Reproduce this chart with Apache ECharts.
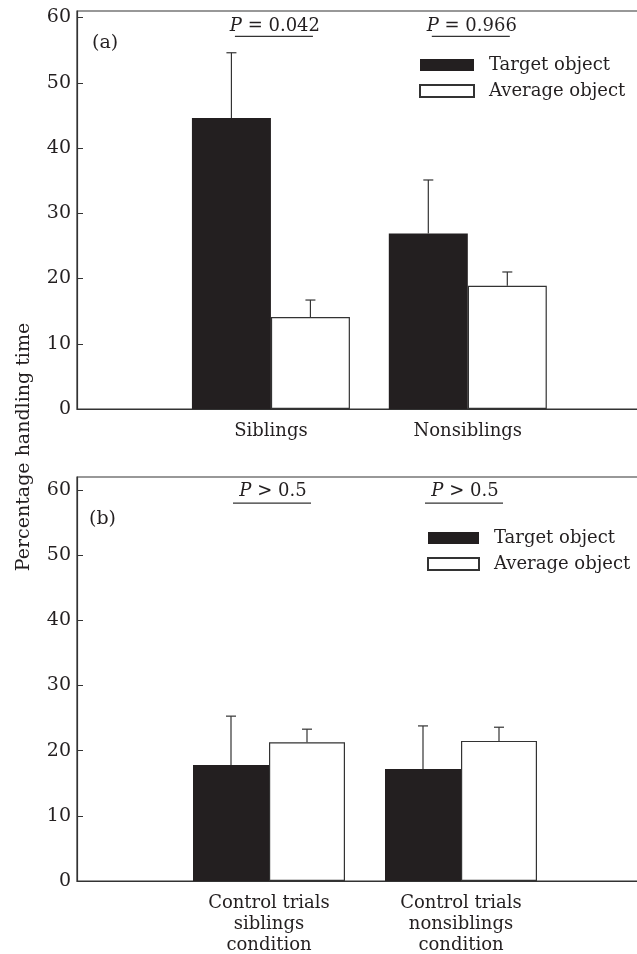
<!DOCTYPE html>
<html>
<head>
<meta charset="utf-8">
<script src="https://cdn.jsdelivr.net/npm/echarts@6/dist/echarts.min.js"></script>
<style>
  html, body { margin: 0; padding: 0; background: #fff; overflow: hidden; }
  /* the plot frames run past the right edge of the page, as in the source figure */
  #main { width: 660px; height: 954px; }
</style>
</head>
<body>
<div id="main"></div>
<script>
// panel (a)
var groupsA = ['Siblings', 'Nonsiblings'];
var targetA = [44.6, 26.9];
var targetTopA = [54.6, 35.1];
var averageA = [14.1, 18.9];
var averageTopA = [16.7, 21.0];
var pLabelsA = ['= 0.042', '= 0.966'];

// panel (b)
var groupsB = ['Control trials\nsiblings\ncondition', 'Control trials\nnonsiblings\ncondition'];
var targetB = [17.8, 17.2];
var targetTopB = [25.3, 23.8];
var averageB = [21.3, 21.5];
var averageTopB = [23.3, 23.6];
var pLabelsB = ['> 0.5', '> 0.5'];

var yTicks = [0, 10, 20, 30, 40, 50, 60];
var legendNames = ['Target object', 'Average object'];

var FONT = 'DejaVu Serif';
var INK = '#231f20';

function pos(i) { return i + 1; }
function pairs(vals) { return vals.map(function (v, i) { return [pos(i), v]; }); }
function triples(a, b) { return a.map(function (v, i) { return [pos(i), v, b[i]]; }); }

function errorItem(side, bw) {
  return function (params, api) {
    var base = api.coord([api.value(0), api.value(1)]);
    var top = api.coord([api.value(0), api.value(2)]);
    var x = base[0] + side * bw / 2;
    var st = { stroke: '#333', lineWidth: 1.2 };
    return {
      type: 'group',
      children: [
        { type: 'line', shape: { x1: x, y1: base[1], x2: x, y2: top[1] }, style: st },
        { type: 'line', shape: { x1: x - 5, y1: top[1], x2: x + 5, y2: top[1] }, style: st }
      ]
    };
  };
}

function pItem(labels) {
  return function (params, api) {
    var t = api.coord([api.value(0), api.value(1)]);
    var l = api.coord([api.value(0), api.value(2)]);
    return {
      type: 'group',
      children: [
        {
          type: 'text',
          style: {
            x: t[0] + 4, y: t[1],
            text: '{i|P} ' + labels[params.dataIndex],
            align: 'center', verticalAlign: 'middle',
            fontFamily: FONT, fontSize: 18, fill: INK,
            rich: { i: { fontStyle: 'italic', fontFamily: FONT, fontSize: 18, fill: INK } }
          }
        },
        { type: 'line', shape: { x1: l[0] - 36, y1: l[1], x2: l[0] + 42, y2: l[1] },
          style: { stroke: '#333', lineWidth: 1.2 } }
      ]
    };
  };
}

function yAxisCfg(grid, max) {
  return {
    type: 'value', gridIndex: grid, min: 0, max: max,
    axisLine: { show: true, lineStyle: { color: '#333', width: 1.2 } },
    axisTick: { show: true, inside: true, length: 6, customValues: yTicks, lineStyle: { color: '#333' } },
    axisLabel: { customValues: yTicks, margin: 6, fontFamily: FONT, fontSize: 19, color: INK },
    splitLine: { show: false }
  };
}

function xAxisCfg(grid, min, max, groups, lineH) {
  return {
    type: 'value', gridIndex: grid, min: min, max: max,
    axisLine: { show: true, onZero: false, lineStyle: { color: '#333', width: 1.2 } },
    axisTick: { show: false },
    splitLine: { show: false },
    axisLabel: {
      customValues: groups.map(function (g, i) { return pos(i); }),
      formatter: function (v) { return groups[Math.round(v) - 1]; },
      margin: 12, fontFamily: FONT, fontSize: 18, color: INK, lineHeight: lineH, align: 'center'
    }
  };
}

function legendCfg(left, top, w) {
  return {
    left: left, top: top, orient: 'vertical', icon: 'rect', padding: 0,
    itemWidth: w, itemHeight: 12, itemGap: 6, selectedMode: false,
    data: legendNames,
    textStyle: { fontFamily: FONT, fontSize: 18, color: INK, lineHeight: 20, padding: [0, 0, 0, 10] }
  };
}

function panelSeries(idx, target, targetTop, average, averageTop, pLabels, bw, pText, pLine) {
  return [
    { name: legendNames[0], type: 'bar', xAxisIndex: idx, yAxisIndex: idx, barWidth: bw, barGap: '0%',
      itemStyle: { color: INK }, data: pairs(target), animation: false },
    { name: legendNames[1], type: 'bar', xAxisIndex: idx, yAxisIndex: idx, barWidth: bw, barGap: '0%',
      itemStyle: { color: '#fff', borderColor: '#333', borderWidth: 1.2 }, data: pairs(average), animation: false },
    { type: 'custom', xAxisIndex: idx, yAxisIndex: idx, renderItem: errorItem(-1, bw),
      data: triples(target, targetTop), z: 5, animation: false, silent: true },
    { type: 'custom', xAxisIndex: idx, yAxisIndex: idx, renderItem: errorItem(1, bw),
      data: triples(average, averageTop), z: 5, animation: false, silent: true },
    { type: 'custom', xAxisIndex: idx, yAxisIndex: idx, renderItem: pItem(pLabels),
      data: pLabels.map(function (p, i) { return [pos(i), pText, pLine]; }), z: 5, animation: false, silent: true }
  ];
}

var chart = echarts.init(document.getElementById('main'), null, { renderer: 'canvas' });

var option = {
  backgroundColor: '#fff',
  animation: false,
  grid: [
    { left: 77, top: 11, width: 568, height: 398, show: true, borderColor: '#333', borderWidth: 1.2,
      outerBoundsMode: 'none' },
    { left: 77, top: 477, width: 576, height: 404, show: true, borderColor: '#333', borderWidth: 1.2,
      outerBoundsMode: 'none' }
  ],
  xAxis: [
    xAxisCfg(0, 0.015, 2.9, groupsA, 21),
    xAxisCfg(1, 0, 3, groupsB, 21)
  ],
  yAxis: [
    yAxisCfg(0, 61),
    yAxisCfg(1, 62)
  ],
  legend: [
    legendCfg(419, 55, 54),
    legendCfg(427, 528, 51)
  ],
  graphic: [
    { type: 'text', x: 24, y: 447, rotation: Math.PI / 2,
      style: { text: 'Percentage handling time', fontFamily: FONT, fontSize: 19, fill: INK,
               align: 'center', verticalAlign: 'middle' } },
    { type: 'text', left: 92, top: 34, style: { text: '(a)', fontFamily: FONT, fontSize: 19, fill: INK } },
    { type: 'text', left: 89, top: 510, style: { text: '(b)', fontFamily: FONT, fontSize: 19, fill: INK } }
  ],
  series: [].concat(
    panelSeries(0, targetA, targetTopA, averageA, averageTopA, pLabelsA, 79, 58.6, 57.1),
    panelSeries(1, targetB, targetTopB, averageB, averageTopB, pLabelsB, 76, 59.8, 58.0)
  )
};

chart.setOption(option);
</script>
</body>
</html>
